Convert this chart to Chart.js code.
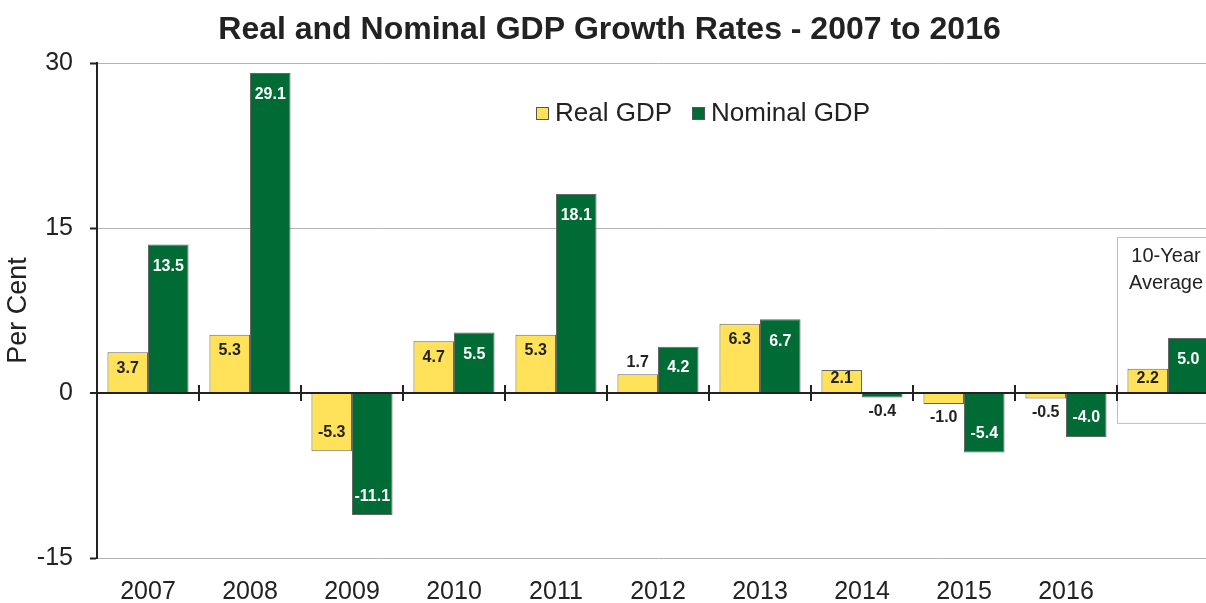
<!DOCTYPE html>
<html>
<head>
<meta charset="utf-8">
<script src="https://cdn.jsdelivr.net/npm/chart.js@4.4.1/dist/chart.umd.min.js"></script>
<style>
    html, body { margin: 0; padding: 0; background: #fff; overflow: hidden; }
    canvas { display: block; }
</style>
</head>
<body>
<canvas id="gdp" width="1224" height="603"></canvas>
<script>
var years = ['2007', '2008', '2009', '2010', '2011', '2012', '2013', '2014', '2015', '2016', ''];
var realGdp = [3.7, 5.3, -5.3, 4.7, 5.3, 1.7, 6.3, 2.1, -1.0, -0.5, 2.2];
var nominalGdp = [13.5, 29.1, -11.1, 5.5, 18.1, 4.2, 6.7, -0.4, -5.4, -4.0, 5.0];
var yTicks = [-15, 0, 15, 30];

var FONT = '"Liberation Sans", Arial, sans-serif';
var INK = '#222222';
var YELLOW = '#FFE15A';
var GREEN = '#006B35';

// zero line, crossing ticks between years, 10-year box, legend, bar labels
var extras = {
    id: 'extras',
    beforeDatasetsDraw: function (chart) {
        var ctx = chart.ctx;
        var xs = chart.scales.x;
        var ys = chart.scales.y;
        var half = (xs.getPixelForValue(1) - xs.getPixelForValue(0)) / 2;
        var cx = xs.getPixelForValue(10);
        ctx.save();
        ctx.strokeStyle = '#bdbdbd';
        ctx.lineWidth = 1;
        ctx.strokeRect(Math.round(cx - half) + 0.5, Math.round(ys.getPixelForValue(14.2)) + 0.5,
            half * 2, ys.getPixelForValue(-2.7) - ys.getPixelForValue(14.2));
        ctx.fillStyle = INK;
        ctx.font = '20px ' + FONT;
        ctx.textAlign = 'center';
        ctx.textBaseline = 'middle';
        ctx.fillText('10-Year', cx - 2, ys.getPixelForValue(12.4));
        ctx.fillText('Average', cx - 2, ys.getPixelForValue(10.0));
        ctx.restore();
    },
    afterDatasetsDraw: function (chart) {
        var ctx = chart.ctx;
        var xs = chart.scales.x;
        var ys = chart.scales.y;
        var area = chart.chartArea;
        var y0 = ys.getPixelForValue(0);
        ctx.save();

        // bar labels
        ctx.font = 'bold 16px ' + FONT;
        ctx.textAlign = 'center';
        ctx.textBaseline = 'middle';
        chart.data.datasets.forEach(function (ds, di) {
            var meta = chart.getDatasetMeta(di);
            meta.data.forEach(function (bar, i) {
                var v = ds.data[i];
                var h = Math.abs(bar.base - bar.y);
                var inside = Math.abs(v) >= 2;
                var y;
                if (v >= 0) {
                    y = inside ? bar.y + Math.min(di === 0 ? 16 : 22, h / 2 - 2) : bar.y - 12;
                } else {
                    y = inside ? bar.y - 19 : bar.y + 14;
                }
                ctx.fillStyle = (di === 1 && inside) ? '#ffffff' : INK;
                ctx.fillText(v.toFixed(1), bar.x, y);
            });
        });

        // zero line with crossing ticks
        ctx.strokeStyle = INK;
        ctx.lineWidth = 2;
        ctx.beginPath();
        ctx.moveTo(area.left, y0);
        ctx.lineTo(area.right, y0);
        for (var i = 1; i < years.length; i++) {
            var bx = Math.round((xs.getPixelForValue(i - 1) + xs.getPixelForValue(i)) / 2);
            ctx.moveTo(bx, y0 - 8);
            ctx.lineTo(bx, y0 + 8);
        }
        ctx.stroke();

        // legend
        var items = [
            { text: 'Real GDP', color: YELLOW },
            { text: 'Nominal GDP', color: GREEN }
        ];
        ctx.font = '26px ' + FONT;
        ctx.textAlign = 'left';
        var lx = 536;
        var ly = 113;
        items.forEach(function (it) {
            ctx.fillStyle = it.color;
            ctx.fillRect(lx, ly - 6, 13, 13);
            ctx.strokeStyle = '#555';
            ctx.lineWidth = 1;
            ctx.strokeRect(lx + 0.5, ly - 5.5, 12, 12);
            ctx.fillStyle = INK;
            ctx.fillText(it.text, lx + 19, ly + 1);
            lx += 19 + ctx.measureText(it.text).width + 20;
        });
        ctx.restore();
    }
};

new Chart(document.getElementById('gdp'), {
    type: 'bar',
    data: {
        labels: years,
        datasets: [{
            label: 'Real GDP',
            data: realGdp,
            backgroundColor: YELLOW,
            borderColor: '#666',
            borderWidth: 1,
            borderSkipped: 'start'
        }, {
            label: 'Nominal GDP',
            data: nominalGdp,
            backgroundColor: GREEN,
            borderColor: '#666',
            borderWidth: 1,
            borderSkipped: 'start'
        }]
    },
    plugins: [extras],
    options: {
        responsive: false,
        animation: false,
        devicePixelRatio: 1,
        layout: { padding: { left: 0, right: 5, top: 0, bottom: 0 } },
        datasets: {
            bar: { categoryPercentage: 0.795, barPercentage: 1.0 }
        },
        plugins: {
            legend: { display: false },
            tooltip: { enabled: false },
            title: {
                display: true,
                text: 'Real and Nominal GDP Growth Rates - 2007 to 2016',
                color: INK,
                font: { family: FONT, size: 32, weight: 'bold' },
                padding: { top: 11, bottom: 13.6 }
            }
        },
        scales: {
            x: {
                grid: { display: false },
                border: { display: false },
                ticks: { color: INK, font: { family: FONT, size: 25 }, padding: 11 },
                afterFit: function (s) { s.height = 45; }
            },
            y: {
                min: -15,
                max: 30,
                afterBuildTicks: function (s) {
                    s.ticks = yTicks.map(function (v) { return { value: v }; });
                },
                grid: {
                    color: function (c) { return c.tick && c.tick.value === 0 ? INK : '#b3b3b3'; },
                    lineWidth: function (c) { return c.tick && c.tick.value === 0 ? 2 : 1; },
                    tickColor: INK,
                    tickLength: 7,
                    tickWidth: 2
                },
                border: { display: true, color: INK, width: 2 },
                ticks: { color: INK, font: { family: FONT, size: 25 }, padding: 17 },
                title: {
                    display: true,
                    text: 'Per Cent',
                    color: INK,
                    font: { family: FONT, size: 27 },
                    padding: { top: 2, bottom: 0 }
                },
                afterFit: function (s) { s.width = 97; }
            }
        }
    }
});
</script>
</body>
</html>
